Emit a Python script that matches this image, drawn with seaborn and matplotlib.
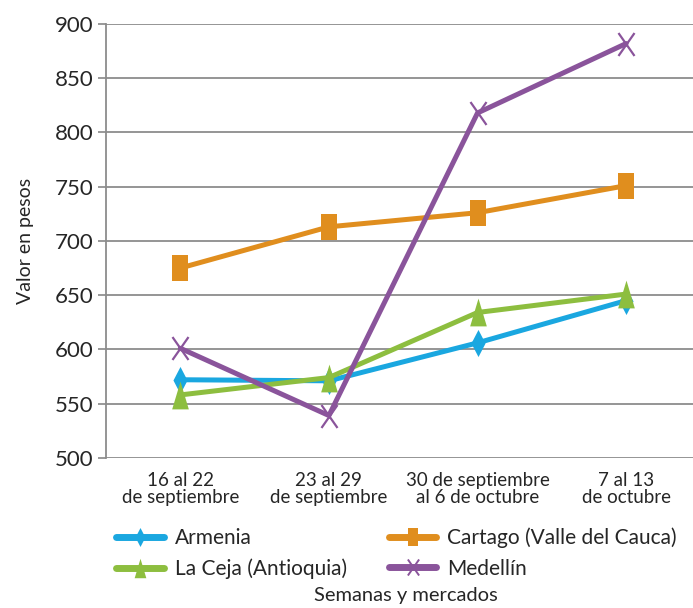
import matplotlib
matplotlib.use("Agg")
import matplotlib.pyplot as plt
from matplotlib.path import Path
from matplotlib.lines import Line2D
import seaborn as sns
import pandas as pd

categories = ["16 al 22\nde septiembre", "23 al 29\nde septiembre",
              "30 de septiembre\nal 6 de octubre", "7 al 13\nde octubre"]
armenia = [572, 571, 606, 645]
cartago = [675, 713, 726, 751]
la_ceja = [558, 574, 634, 651]
medellin = [601, 539, 818, 882]
series_names = ["Armenia", "Cartago (Valle del Cauca)", "La Ceja (Antioquia)", "Medellín"]
yticks = [500, 550, 600, 650, 700, 750, 800, 850, 900]

colors = {"Armenia": "#1AA7E0", "Cartago (Valle del Cauca)": "#E08E1E",
          "La Ceja (Antioquia)": "#8DBE3F", "Medellín": "#8A549B"}

diamond = Path([(0, 1), (0.52, 0), (0, -1), (-0.52, 0), (0, 1)],
               [Path.MOVETO, Path.LINETO, Path.LINETO, Path.LINETO, Path.CLOSEPOLY])
rect = Path([(-0.58, -1), (0.58, -1), (0.58, 1), (-0.58, 1), (-0.58, -1)],
            [Path.MOVETO, Path.LINETO, Path.LINETO, Path.LINETO, Path.CLOSEPOLY])
tri = Path([(0, 1), (0.6, -1), (-0.6, -1), (0, 1)],
           [Path.MOVETO, Path.LINETO, Path.LINETO, Path.CLOSEPOLY])
cross = Path([(-0.7, -1), (0.7, 1), (-0.7, 1), (0.7, -1)],
             [Path.MOVETO, Path.LINETO, Path.MOVETO, Path.LINETO])

markers = {"Armenia": diamond, "Cartago (Valle del Cauca)": rect,
           "La Ceja (Antioquia)": tri, "Medellín": cross}
msizes = {"Armenia": 19.5, "Cartago (Valle del Cauca)": 18.7,
          "La Ceja (Antioquia)": 20, "Medellín": 16.5}

rows = []
for name, vals in zip(series_names, [armenia, cartago, la_ceja, medellin]):
    for i, v in enumerate(vals):
        rows.append({"x": i, "valor": v, "mercado": name})
df = pd.DataFrame(rows)

sns.set_style("white")
plt.rcParams['font.family'] = ['Lato', 'DejaVu Sans']

fig = plt.figure(figsize=(6.93, 6.08), dpi=100)
ax = fig.add_axes([0.153, 0.247, 0.847, 0.7135])

for name in series_names:
    sub = df[df.mercado == name]
    is_x = name == "Medellín"
    sns.lineplot(data=sub, x="x", y="valor", ax=ax, color=colors[name],
                 marker=markers[name], markersize=msizes[name],
                 markeredgewidth=1.6 if is_x else 0,
                 markeredgecolor=colors[name],
                 markerfacecolor="none" if is_x else colors[name],
                 linewidth=3.6, legend=False)

ax.set_ylim(500, 900)
ax.set_yticks(yticks)
ax.set_xlim(-0.5, 3.45)
ax.set_xticks(range(len(categories)))
ax.set_xticklabels(categories, fontsize=13.5, linespacing=1.0)
ax.tick_params(axis='y', labelsize=16, length=6, width=1.2, color="#888888",
               direction='out', pad=3, left=True)
ax.tick_params(axis='x', length=0, pad=10)
ax.grid(axis='y', color="#8c8c8c", linewidth=1.3)
ax.set_axisbelow(True)
for s in ["top", "right", "bottom"]:
    ax.spines[s].set_visible(False)
ax.spines["left"].set_color("#8c8c8c")
ax.spines["left"].set_linewidth(1.3)
ax.set_ylabel("Valor en pesos", fontsize=14, labelpad=15)
ax.set_xlabel("")

order = ["Armenia", "La Ceja (Antioquia)", "Cartago (Valle del Cauca)", "Medellín"]
handles = []
for name in order:
    is_x = name == "Medellín"
    handles.append(Line2D([0], [0], color=colors[name], linewidth=5,
                          solid_capstyle="round",
                          marker=markers[name], markersize=msizes[name] * 0.7,
                          markeredgewidth=1.4 if is_x else 0,
                          markeredgecolor=colors[name],
                          markerfacecolor="none" if is_x else colors[name]))
fig.legend(handles, order, ncol=2, loc="upper left",
           bbox_to_anchor=(0.168, 0.132), frameon=False, fontsize=15,
           handlelength=2.3, columnspacing=2.0, labelspacing=0.5,
           handletextpad=0.5, borderaxespad=0, borderpad=0)
fig.text(0.585, 0.006, "Semanas y mercados", ha="center", va="bottom", fontsize=14.5)

fig.savefig("out.png", dpi=100)
